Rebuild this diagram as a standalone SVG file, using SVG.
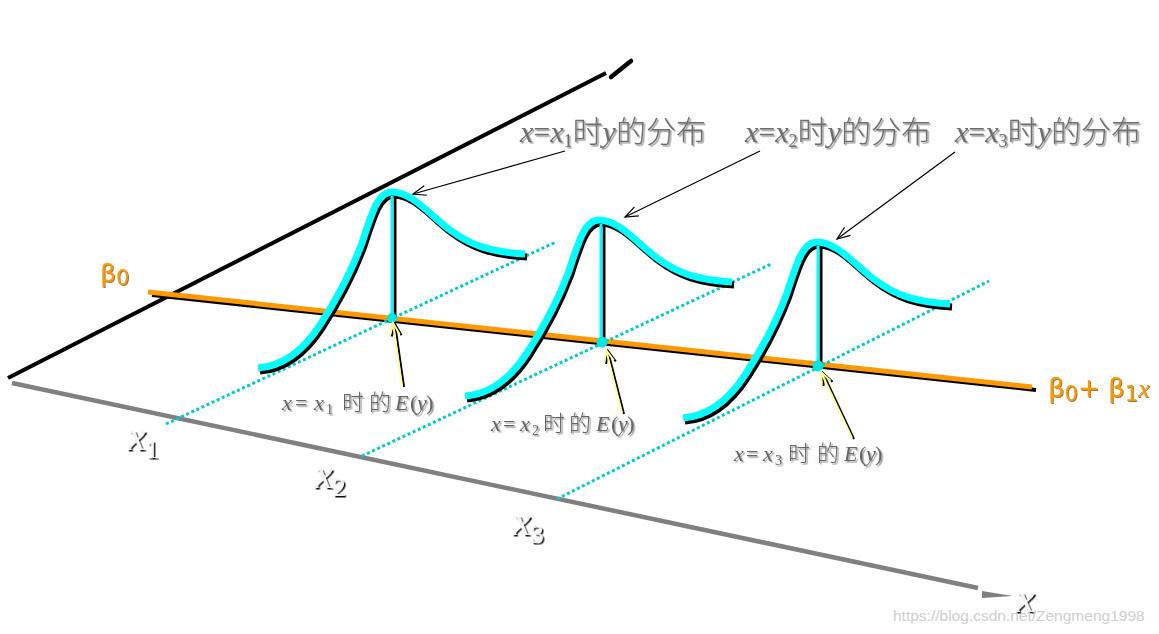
<svg xmlns="http://www.w3.org/2000/svg" xmlns:xlink="http://www.w3.org/1999/xlink" width="1159" height="634" viewBox="0 0 1159 634">
<style>
.lat{font-family:'Liberation Serif','Noto Sans CJK SC',serif}
.i{font-style:italic}
.toplbl{font-size:30px;fill:#6e6e6e;font-weight:300}
.botlbl{font-size:22px;fill:#666;font-weight:300}
.xlbl{fill:#f4f4f4}
.beta{font-family:'DejaVu Sans','Liberation Sans',sans-serif;fill:#FF9900}
.curve{fill:none;stroke:#00FFFF;stroke-width:7}
.curvesh{fill:none;stroke:#000;stroke-width:7}
.dots{fill:none;stroke:#00CCCC;stroke-width:3;stroke-dasharray:3 2.6}
.thin{fill:none;stroke:#000;stroke-width:1.2}
.yel{fill:none;stroke:#FFFF99;stroke-width:2}
.yelsh{fill:none;stroke:#000;stroke-width:2}
</style>
<defs>
<filter id="shGray" x="-10%" y="-30%" width="120%" height="160%">
<feDropShadow dx="1.5" dy="1.5" stdDeviation="0.6" flood-color="#9a9a9a" flood-opacity="1"/>
</filter>
<filter id="shDark" x="-10%" y="-30%" width="130%" height="160%">
<feDropShadow dx="1.5" dy="1.5" stdDeviation="0.4" flood-color="#111" flood-opacity="1"/>
</filter>
<filter id="shOr" x="-10%" y="-30%" width="120%" height="160%">
<feDropShadow dx="1" dy="1" stdDeviation="0.5" flood-color="#7a5a20" flood-opacity="0.8"/>
</filter>
<path id="dist" d="M258,368 C285,366 305,348 320,325 C335,302 352,270 362,243 C372,212 378,192 392,192 C412,192 430,215 450,230 C470,245 490,252 525,254"/>
<marker id="vBlack" markerUnits="userSpaceOnUse" markerWidth="30" markerHeight="30" viewBox="-15 -15 30 30" refX="0" refY="0" orient="auto">
<path d="M-13,-5 L0,0 L-13,5" fill="none" stroke="#000" stroke-width="1.2"/>
</marker>
<marker id="vYel" markerUnits="userSpaceOnUse" markerWidth="30" markerHeight="30" viewBox="-15 -15 30 30" refX="0" refY="0" orient="auto">
<path d="M-12,-5 L0,0 L-12,5" fill="none" stroke="#FFFF99" stroke-width="2"/>
</marker>
<marker id="vYelSh" markerUnits="userSpaceOnUse" markerWidth="30" markerHeight="30" viewBox="-15 -15 30 30" refX="0" refY="0" orient="auto">
<path d="M-12,-5 L0,0 L-12,5" fill="none" stroke="#000" stroke-width="2"/>
</marker>
</defs>
<rect width="1159" height="634" fill="#fff"/>

<g id="axes">
<line x1="8" y1="378" x2="606" y2="73" stroke="#000" stroke-width="4"/>
<line x1="611" y1="77" x2="631" y2="61" stroke="#000" stroke-width="4.5" stroke-linecap="round"/>
<line x1="12" y1="383" x2="978" y2="588" stroke="#808080" stroke-width="4.5"/>
<polygon points="982,591 1013,596 982,598" fill="#808080"/>
</g>

<g id="regression-line">
<line x1="152" y1="295" x2="1036" y2="390" stroke="#000" stroke-width="4"/>
<line x1="148" y1="292" x2="1032" y2="387" stroke="#FF9900" stroke-width="5"/>
</g>

<g id="guides">
<line class="dots" x1="166" y1="424" x2="556" y2="242"/>
<line class="dots" x1="362" y1="456" x2="771" y2="264"/>
<line class="dots" x1="557" y1="499" x2="989" y2="281"/>
</g>

<g id="dist1">
<use xlink:href="#dist" class="curvesh" transform="translate(2,3)"/>
<use xlink:href="#dist" class="curve"/>
<line x1="395" y1="197" x2="395" y2="318" stroke="#000" stroke-width="3"/>
<line x1="392" y1="196" x2="392" y2="318" stroke="#00FFFF" stroke-width="3"/>
<circle cx="392" cy="318" r="5" fill="#00E5E5"/>
</g>
<g id="dist2">
<use xlink:href="#dist" class="curvesh" transform="translate(209,31)"/>
<use xlink:href="#dist" class="curve" transform="translate(207,28)"/>
<line x1="604" y1="225" x2="604" y2="342" stroke="#000" stroke-width="3"/>
<line x1="601" y1="224" x2="601" y2="342" stroke="#00FFFF" stroke-width="3"/>
<circle cx="602" cy="342" r="5.5" fill="#00E5E5"/>
</g>
<g id="dist3">
<use xlink:href="#dist" class="curvesh" transform="translate(427,53)"/>
<use xlink:href="#dist" class="curve" transform="translate(425,50)"/>
<line x1="821" y1="247" x2="821" y2="366" stroke="#000" stroke-width="3"/>
<line x1="818" y1="246" x2="818" y2="366" stroke="#00FFFF" stroke-width="3"/>
<circle cx="818" cy="366" r="5.5" fill="#00E5E5"/>
</g>

<g id="connectors">
<line class="thin" x1="565" y1="151" x2="413" y2="194" marker-end="url(#vBlack)"/>
<line class="thin" x1="760" y1="151" x2="625" y2="217" marker-end="url(#vBlack)"/>
<line class="thin" x1="955" y1="152" x2="837" y2="239" marker-end="url(#vBlack)"/>
<line class="yelsh" x1="404" y1="387" x2="395" y2="324" marker-end="url(#vYelSh)"/>
<line class="yel" x1="402" y1="386" x2="393" y2="323" marker-end="url(#vYel)"/>
<line class="yelsh" x1="624" y1="414" x2="608" y2="351" marker-end="url(#vYelSh)"/>
<line class="yel" x1="622" y1="413" x2="606" y2="350" marker-end="url(#vYel)"/>
<line class="yelsh" x1="854" y1="439" x2="823" y2="373" marker-end="url(#vYelSh)"/>
<line class="yel" x1="852" y1="438" x2="821" y2="372" marker-end="url(#vYel)"/>
</g>

<g id="label-top1" class="lat toplbl" filter="url(#shGray)">
<text x="520" y="142"><tspan class="i">x</tspan>=<tspan class="i">x</tspan><tspan font-size="18" dy="5">1</tspan><tspan dy="-5">时</tspan><tspan class="i">y</tspan>的分布</text>
</g>
<g id="label-top2" class="lat toplbl" filter="url(#shGray)">
<text x="745" y="142"><tspan class="i">x</tspan>=<tspan class="i">x</tspan><tspan font-size="18" dy="5">2</tspan><tspan dy="-5">时</tspan><tspan class="i">y</tspan>的分布</text>
</g>
<g id="label-top3" class="lat toplbl" filter="url(#shGray)">
<text x="955" y="142"><tspan class="i">x</tspan>=<tspan class="i">x</tspan><tspan font-size="18" dy="5">3</tspan><tspan dy="-5">时</tspan><tspan class="i">y</tspan>的分布</text>
</g>

<g id="label-ey1" class="lat botlbl" transform="translate(282,410)" filter="url(#shGray)">
<text x="0" y="0"><tspan class="i" x="0">x</tspan><tspan x="13">=</tspan><tspan class="i" x="32">x</tspan><tspan x="44" dy="4" font-size="14">1</tspan><tspan x="60" dy="-4">时</tspan><tspan x="87">的</tspan><tspan class="i" x="113">E</tspan><tspan x="128">(</tspan><tspan class="i" x="135">y</tspan><tspan x="144">)</tspan></text>
</g>
<g id="label-ey2" class="lat botlbl" transform="translate(491,431)" filter="url(#shGray)">
<text x="0" y="0"><tspan class="i" x="0">x</tspan><tspan x="12">=</tspan><tspan class="i" x="29">x</tspan><tspan x="41" dy="4" font-size="14">2</tspan><tspan x="52" dy="-4">时</tspan><tspan x="78">的</tspan><tspan class="i" x="105">E</tspan><tspan x="120">(</tspan><tspan class="i" x="127">y</tspan><tspan x="136">)</tspan></text>
</g>
<g id="label-ey3" class="lat botlbl" transform="translate(734,461)" filter="url(#shGray)">
<text x="0" y="0"><tspan class="i" x="0">x</tspan><tspan x="12">=</tspan><tspan class="i" x="29">x</tspan><tspan x="41" dy="4" font-size="14">3</tspan><tspan x="54" dy="-4">时</tspan><tspan x="83">的</tspan><tspan class="i" x="110">E</tspan><tspan x="125">(</tspan><tspan class="i" x="132">y</tspan><tspan x="141">)</tspan></text>
</g>

<g id="label-x1" class="lat xlbl" filter="url(#shDark)">
<text x="128" y="450"><tspan class="i" font-size="40">x</tspan><tspan font-size="26" dy="8">1</tspan></text>
</g>
<g id="label-x2" class="lat xlbl" filter="url(#shDark)">
<text x="315" y="488"><tspan class="i" font-size="40">x</tspan><tspan font-size="26" dy="8">2</tspan></text>
</g>
<g id="label-x3" class="lat xlbl" filter="url(#shDark)">
<text x="513" y="535"><tspan class="i" font-size="40">x</tspan><tspan font-size="26" dy="8">3</tspan></text>
</g>
<g id="label-x" class="lat xlbl" filter="url(#shDark)">
<text class="i" x="1016" y="612" font-size="42">x</text>
</g>

<g id="label-beta0" filter="url(#shOr)">
<text class="beta" x="100" y="282" font-size="25">β<tspan font-size="21" dy="3">0</tspan></text>
</g>
<g id="label-reg" filter="url(#shOr)">
<text class="beta" x="1048" y="397" font-size="26">β<tspan font-size="21" dy="4">0</tspan><tspan dy="-4">+ β</tspan><tspan font-size="21" dy="4">1</tspan><tspan dy="-4" font-family="'Liberation Serif',serif" font-style="italic">x</tspan></text>
</g>

<text x="893" y="621" font-family="'Liberation Sans',sans-serif" font-size="15.5" fill="#cfcfcf">https://blog.csdn.net/Zengmeng1998</text>
</svg>
